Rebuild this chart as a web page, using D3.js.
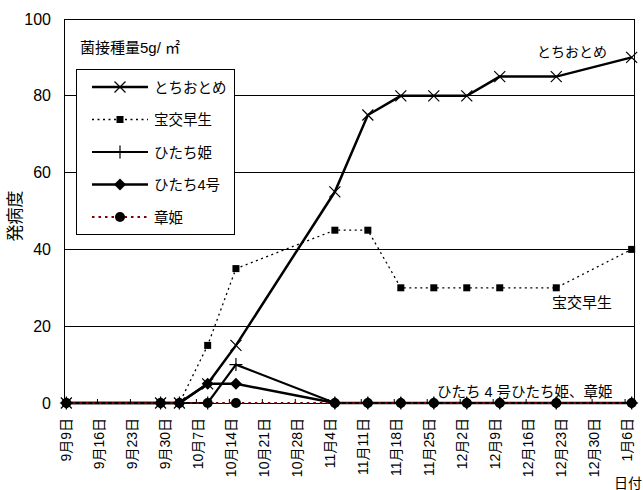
<!DOCTYPE html>
<html>
<head>
<meta charset="utf-8">
<script src="https://cdn.jsdelivr.net/npm/d3@7"></script>
<style>
html,body{margin:0;padding:0;background:#fff;}
svg{display:block;}
text{font-family:"Liberation Sans","Noto Sans CJK JP",sans-serif;}
</style>
</head>
<body>
<svg id="chart" width="643" height="490"></svg>
<script>
// ---- data ----
const dates = ["2002-09-09","2002-09-29","2002-10-03","2002-10-09","2002-10-15","2002-11-05","2002-11-12","2002-11-19","2002-11-26","2002-12-03","2002-12-10","2002-12-22","2003-01-07"];
const seriesNames = ["とちおとめ","宝交早生","ひたち姫","ひたち4号","章姫"];
const tochiotome = [0,0,0,5,15,55,75,80,80,80,85,85,90];
const houkouwase = [0,0,0,15,35,45,45,30,30,30,30,30,40];
const hitachihime = [0,0,0,0,10,0,0,0,0,0,0,0,0];
const hitachi4 = [0,0,0,5,5,0,0,0,0,0,0,0,0];
const akihime = [0,0,0,0,0,0,0,0,0,0,0,0,0];
const tickDates = ["2002-09-09","2002-09-16","2002-09-23","2002-09-30","2002-10-07","2002-10-14","2002-10-21","2002-10-28","2002-11-04","2002-11-11","2002-11-18","2002-11-25","2002-12-02","2002-12-09","2002-12-16","2002-12-23","2002-12-30","2003-01-06"];
const tickLabels = ["9月9日","9月16日","9月23日","9月30日","10月7日","10月14日","10月21日","10月28日","11月4日","11月11日","11月18日","11月25日","12月2日","12月9日","12月16日","12月23日","12月30日","1月6日"];
const yTicks = [0,20,40,60,80,100];
const axisStart = "2002-09-09", axisEnd = "2003-01-08";

// ---- setup ----
const parse = d3.timeParse("%Y-%m-%d");
const svg = d3.select("#chart");
const L = 64, R = 634, T = 19, B = 403;
const x = d3.scaleTime().domain([parse(axisStart), parse(axisEnd)]).range([L, R]);
const y = d3.scaleLinear().domain([0, 100]).range([B, T]);
const pts = dates.map(s => d3.timeHour.offset(parse(s), 12));

// gridlines
svg.append("g").selectAll("line").data(yTicks.filter(v => v > 0)).join("line")
  .attr("x1", L).attr("x2", R).attr("y1", d => y(d)).attr("y2", d => y(d))
  .attr("stroke", "#000").attr("stroke-width", 1).attr("shape-rendering", "crispEdges");
// right border
svg.append("line").attr("x1", R).attr("x2", R).attr("y1", T).attr("y2", B)
  .attr("stroke", "#000").attr("shape-rendering", "crispEdges");

// y axis
const yAxis = svg.append("g").attr("transform", `translate(${L},0)`)
  .call(d3.axisLeft(y).tickValues(yTicks).tickSize(0).tickPadding(13));
yAxis.select(".domain").attr("stroke", "#000").attr("shape-rendering", "crispEdges");
yAxis.selectAll("text").attr("font-size", 16).attr("fill", "#000")
  .attr("font-family", "Liberation Sans, Arial, sans-serif");

// x axis
const xAxis = svg.append("g").attr("transform", `translate(0,${B})`)
  .call(d3.axisBottom(x).tickValues(tickDates.map(parse)).tickSizeInner(-4).tickSizeOuter(0)
    .tickFormat((d, i) => tickLabels[i]));
xAxis.select(".domain").attr("stroke", "#000").attr("shape-rendering", "crispEdges");
xAxis.selectAll(".tick line").attr("stroke", "#000");
xAxis.selectAll("text")
  .attr("font-size", 14).attr("fill", "#000")
  .attr("text-anchor", "end")
  .attr("transform", "translate(2,15) rotate(-90)")
  .attr("x", 0).attr("y", 0).attr("dy", "0.35em");

// series
const series = [
  {name: seriesNames[0], vals: tochiotome, color: "#000", width: 2.5, dash: null, marker: "x"},
  {name: seriesNames[1], vals: houkouwase, color: "#000", width: 1.3, dash: "2,3.5", marker: "square"},
  {name: seriesNames[2], vals: hitachihime, color: "#000", width: 2.2, dash: null, marker: "plus"},
  {name: seriesNames[3], vals: hitachi4, color: "#000", width: 2.5, dash: null, marker: "diamond"},
  {name: seriesNames[4], vals: akihime, color: "#800000", width: 2.2, dash: "2.5,4", marker: "circle"}
];

const line = d3.line().x(d => x(d[0])).y(d => y(d[1]));
const lineG = svg.append("g");
series.forEach(s => {
  lineG.append("path").datum(pts.map((p, i) => [p, s.vals[i]]))
    .attr("d", line).attr("fill", "none").attr("stroke", s.color)
    .attr("stroke-width", s.width).attr("stroke-dasharray", s.dash);
});

function drawMarker(g, type, cx, cy) {
  if (type === "x") {
    const r = 5.5;
    g.append("path").attr("d", `M${cx-r},${cy-r}L${cx+r},${cy+r}M${cx-r},${cy+r}L${cx+r},${cy-r}`)
      .attr("stroke", "#000").attr("stroke-width", 1.2).attr("fill", "none");
  } else if (type === "plus") {
    const r = 6.5;
    g.append("path").attr("d", `M${cx-r},${cy}L${cx+r},${cy}M${cx},${cy-r}L${cx},${cy+r}`)
      .attr("stroke", "#000").attr("stroke-width", 1.2).attr("fill", "none");
  } else if (type === "square") {
    g.append("rect").attr("x", cx-3.5).attr("y", cy-3.5).attr("width", 7).attr("height", 7).attr("fill", "#000");
  } else if (type === "diamond") {
    const r = 6;
    g.append("path").attr("d", `M${cx},${cy-r}L${cx+r},${cy}L${cx},${cy+r}L${cx-r},${cy}Z`).attr("fill", "#000");
  } else if (type === "circle") {
    g.append("circle").attr("cx", cx).attr("cy", cy).attr("r", 5).attr("fill", "#000");
  }
}

const markerOrder = [4, 1, 2, 3, 0];
const markG = svg.append("g");
markerOrder.forEach(k => {
  const s = series[k];
  pts.forEach((p, i) => drawMarker(markG, s.marker, x(p), y(s.vals[i])));
});

// legend
const lg = svg.append("g");
lg.append("rect").attr("x", 76.5).attr("y", 69.5).attr("width", 158).attr("height", 165)
  .attr("fill", "#fff").attr("stroke", "#000").attr("stroke-width", 1);
series.forEach((s, i) => {
  const cy = 87 + i * 32.5;
  lg.append("line").attr("x1", 92).attr("x2", 148).attr("y1", cy).attr("y2", cy)
    .attr("stroke", s.color).attr("stroke-width", s.width).attr("stroke-dasharray", s.dash);
  drawMarker(lg, s.marker, 120, cy);
  lg.append("text").attr("x", 154).attr("y", cy + 5.5).attr("font-size", 14.5).attr("fill", "#000").text(s.name);
});

// annotations
svg.append("text").attr("x", 80).attr("y", 53).attr("font-size", 15).text("菌接種量5g/ ㎡");
svg.append("text").attr("x", 537).attr("y", 57).attr("font-size", 14).text("とちおとめ");
svg.append("text").attr("x", 552).attr("y", 308).attr("font-size", 15).text("宝交早生");
svg.append("text").attr("x", 437).attr("y", 397).attr("font-size", 14.5).text("ひたち 4 号ひたち姫、章姫");
svg.append("text").attr("x", 614).attr("y", 488).attr("font-size", 14).text("日付");
svg.append("text").attr("transform", "translate(21,216) rotate(-90)").attr("text-anchor", "middle")
  .attr("font-size", 17).text("発病度");
</script>
</body>
</html>
